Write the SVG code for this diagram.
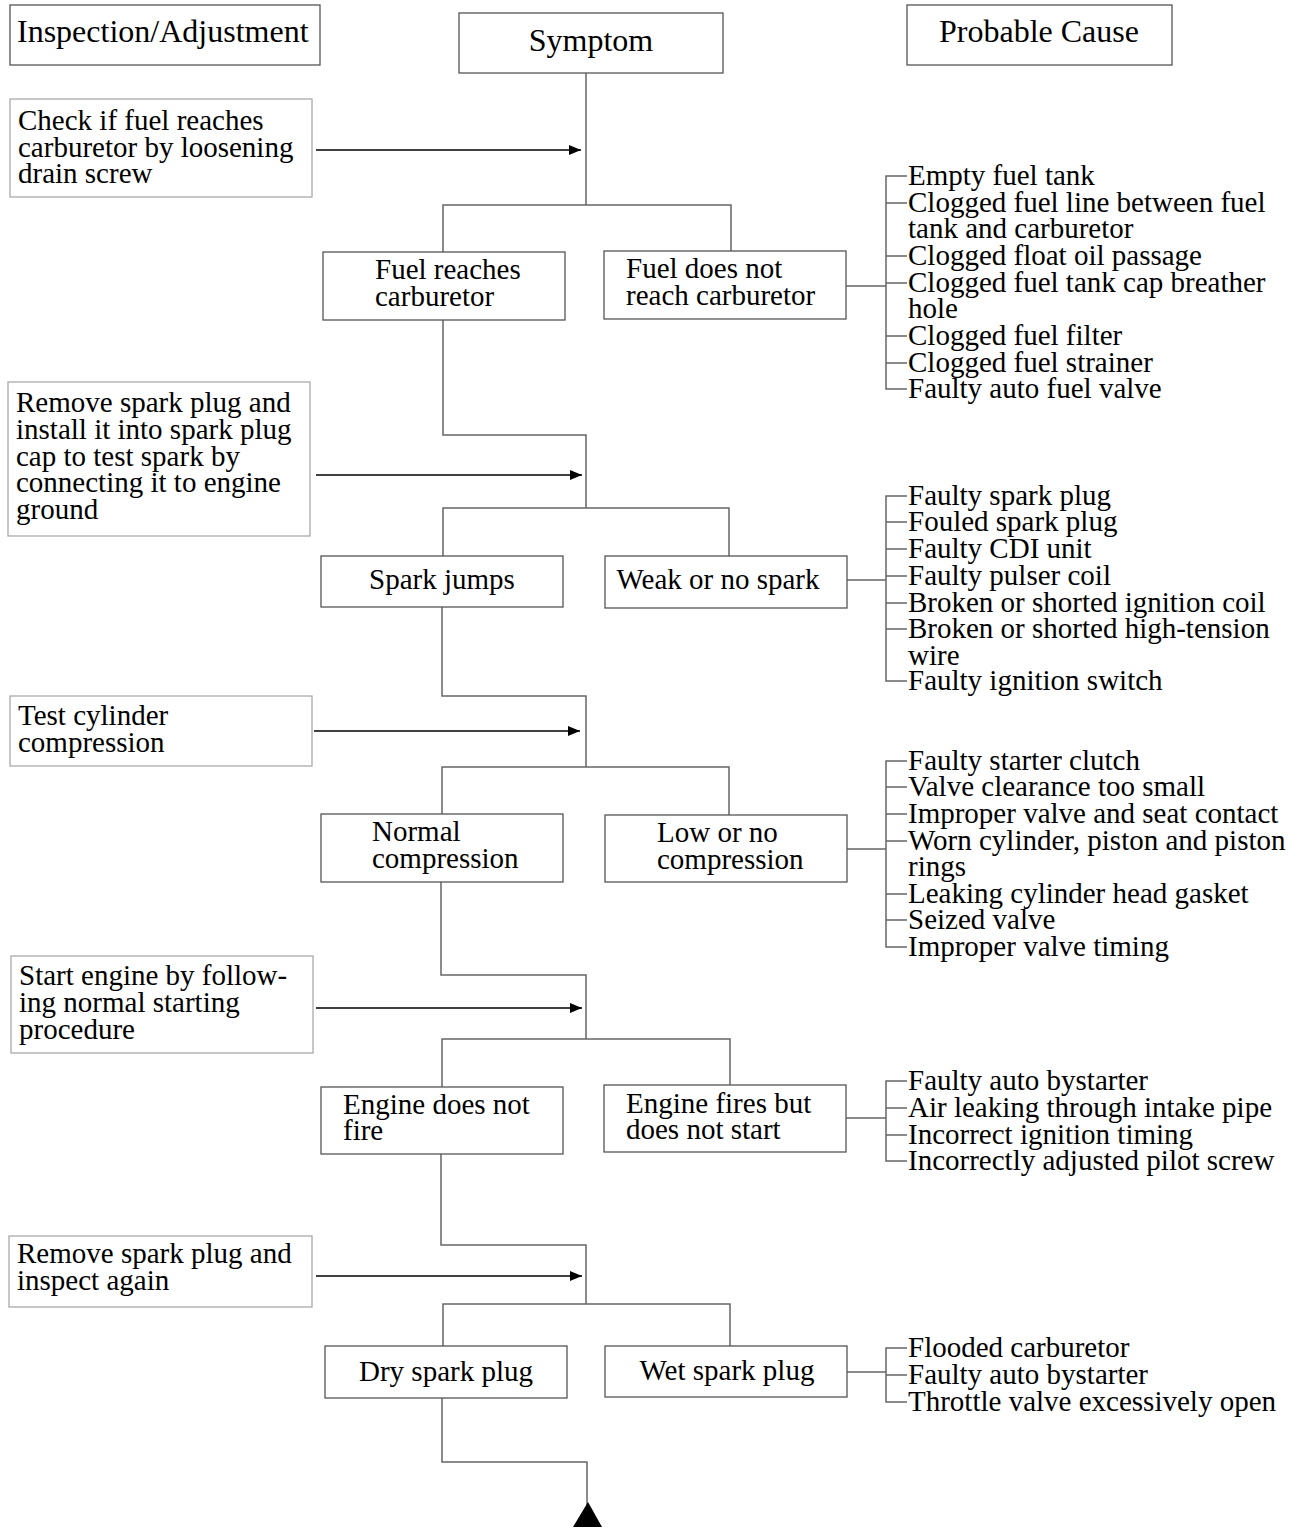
<svg xmlns="http://www.w3.org/2000/svg" width="1295" height="1528" viewBox="0 0 1295 1528">
<style>
text{font-family:"Liberation Serif","Times New Roman",serif;font-size:29px;fill:#000}
.h{font-size:32px}
.b{fill:#fff;stroke:#555;stroke-width:1.3}
.l{fill:#fff;stroke:#aaa;stroke-width:1.3}
.c{fill:none;stroke:#666;stroke-width:1.5}
.a{fill:none;stroke:#000;stroke-width:1.5}
.m{text-anchor:middle}
</style>
<defs>
<marker id="ah" viewBox="0 0 12 10" refX="12" refY="5" markerWidth="13" markerHeight="10" markerUnits="userSpaceOnUse" orient="auto"><path d="M0,0L12,5L0,10z" fill="#000"/></marker>
</defs>
<rect width="1295" height="1528" fill="#fff"/>
<g id="connectors">
<path class="c" d="M586,73V205M443,252V205H731V251"/>
<path class="c" d="M443,320V435H586V508M443,556V508H729V556"/>
<path class="c" d="M442,607V696H586V767M442,814V767H729V815"/>
<path class="c" d="M441,882V975H586V1039M442,1087V1039H730V1085"/>
<path class="c" d="M441,1154V1245H586V1304M443,1346V1304H730V1346"/>
<path class="c" d="M442,1398V1462H587V1505"/>
<line class="a" x1="316" y1="150" x2="581" y2="150" marker-end="url(#ah)"/>
<line class="a" x1="316" y1="475" x2="582" y2="475" marker-end="url(#ah)"/>
<line class="a" x1="314" y1="731" x2="580" y2="731" marker-end="url(#ah)"/>
<line class="a" x1="316" y1="1008" x2="582" y2="1008" marker-end="url(#ah)"/>
<line class="a" x1="316" y1="1276" x2="582" y2="1276" marker-end="url(#ah)"/>
<path class="c" d="M846,286H886M907,176H886V389H907M886,203H907M886,256H907M886,283H907M886,336H907M886,363H907"/>
<path class="c" d="M847,580H886M907,496H886V681H907M886,522H907M886,549H907M886,576H907M886,603H907M886,629H907"/>
<path class="c" d="M847,849H886M907,761H886V947H907M886,787H907M886,814H907M886,841H907M886,894H907M886,920H907"/>
<path class="c" d="M846,1118H886M907,1081H886V1161H907M886,1108H907M886,1135H907"/>
<path class="c" d="M847,1372H886M907,1348H886V1402H907M886,1375H907"/>
<path d="M573,1527L602,1527L588,1502z" fill="#000"/>
</g>
<g id="hdr-inspection"><rect class="b" x="10" y="5" width="310" height="60"/><text class="h" x="17" y="42">Inspection/Adjustment</text></g>
<g id="hdr-symptom"><rect class="b" x="459" y="13" width="264" height="60"/><text class="h m" x="591" y="51">Symptom</text></g>
<g id="hdr-cause"><rect class="b" x="907" y="5" width="265" height="60"/><text class="h m" x="1039" y="42">Probable Cause</text></g>

<g id="insp1"><rect class="l" x="10" y="99" width="302" height="98"/><text x="18" y="130">Check if fuel reaches</text><text x="18" y="157">carburetor by loosening</text><text x="18" y="183">drain screw</text></g>
<g id="s1a"><rect class="b" x="323" y="252" width="242" height="68"/><text x="375" y="279">Fuel reaches</text><text x="375" y="306">carburetor</text></g>
<g id="s1b"><rect class="b" x="604" y="251" width="242" height="68"/><text x="626" y="278">Fuel does not</text><text x="626" y="305">reach carburetor</text></g>
<g id="c1"><text x="908" y="185">Empty fuel tank</text><text x="908" y="212">Clogged fuel line between fuel</text><text x="908" y="238">tank and carburetor</text><text x="908" y="265">Clogged float oil passage</text><text x="908" y="292">Clogged fuel tank cap breather</text><text x="908" y="318">hole</text><text x="908" y="345">Clogged fuel filter</text><text x="908" y="372">Clogged fuel strainer</text><text x="908" y="398">Faulty auto fuel valve</text></g>

<g id="insp2"><rect class="l" x="8" y="382" width="302" height="154"/><text x="16" y="412">Remove spark plug and</text><text x="16" y="439">install it into spark plug</text><text x="16" y="466">cap to test spark by</text><text x="16" y="492">connecting it to engine</text><text x="16" y="519">ground</text></g>
<g id="s2a"><rect class="b" x="321" y="556" width="242" height="51"/><text class="m" x="442" y="589">Spark jumps</text></g>
<g id="s2b"><rect class="b" x="605" y="556" width="242" height="52"/><text class="m" x="718" y="589">Weak or no spark</text></g>
<g id="c2"><text x="908" y="505">Faulty spark plug</text><text x="908" y="531">Fouled spark plug</text><text x="908" y="558">Faulty CDI unit</text><text x="908" y="585">Faulty pulser coil</text><text x="908" y="612">Broken or shorted ignition coil</text><text x="908" y="638">Broken or shorted high-tension</text><text x="908" y="665">wire</text><text x="908" y="690">Faulty ignition switch</text></g>

<g id="insp3"><rect class="l" x="10" y="696" width="302" height="70"/><text x="18" y="725">Test cylinder</text><text x="18" y="752">compression</text></g>
<g id="s3a"><rect class="b" x="321" y="814" width="242" height="68"/><text x="372" y="841">Normal</text><text x="372" y="868">compression</text></g>
<g id="s3b"><rect class="b" x="605" y="815" width="242" height="67"/><text x="657" y="842">Low or no</text><text x="657" y="869">compression</text></g>
<g id="c3"><text x="908" y="770">Faulty starter clutch</text><text x="908" y="796">Valve clearance too small</text><text x="908" y="823">Improper valve and seat contact</text><text x="908" y="850">Worn cylinder, piston and piston</text><text x="908" y="876">rings</text><text x="908" y="903">Leaking cylinder head gasket</text><text x="908" y="929">Seized valve</text><text x="908" y="956">Improper valve timing</text></g>

<g id="insp4"><rect class="l" x="11" y="956" width="302" height="97"/><text x="19" y="985">Start engine by follow-</text><text x="19" y="1012">ing normal starting</text><text x="19" y="1039">procedure</text></g>
<g id="s4a"><rect class="b" x="321" y="1087" width="242" height="67"/><text x="343" y="1114">Engine does not</text><text x="343" y="1140">fire</text></g>
<g id="s4b"><rect class="b" x="604" y="1085" width="242" height="67"/><text x="626" y="1113">Engine fires but</text><text x="626" y="1139">does not start</text></g>
<g id="c4"><text x="908" y="1090">Faulty auto bystarter</text><text x="908" y="1117">Air leaking through intake pipe</text><text x="908" y="1144">Incorrect ignition timing</text><text x="908" y="1170">Incorrectly adjusted pilot screw</text></g>

<g id="insp5"><rect class="l" x="9" y="1236" width="303" height="71"/><text x="17" y="1263">Remove spark plug and</text><text x="17" y="1290">inspect again</text></g>
<g id="s5a"><rect class="b" x="325" y="1346" width="242" height="52"/><text class="m" x="446" y="1381">Dry spark plug</text></g>
<g id="s5b"><rect class="b" x="605" y="1346" width="242" height="51"/><text class="m" x="727" y="1380">Wet spark plug</text></g>
<g id="c5"><text x="908" y="1357">Flooded carburetor</text><text x="908" y="1384">Faulty auto bystarter</text><text x="908" y="1411">Throttle valve excessively open</text></g>
</svg>
